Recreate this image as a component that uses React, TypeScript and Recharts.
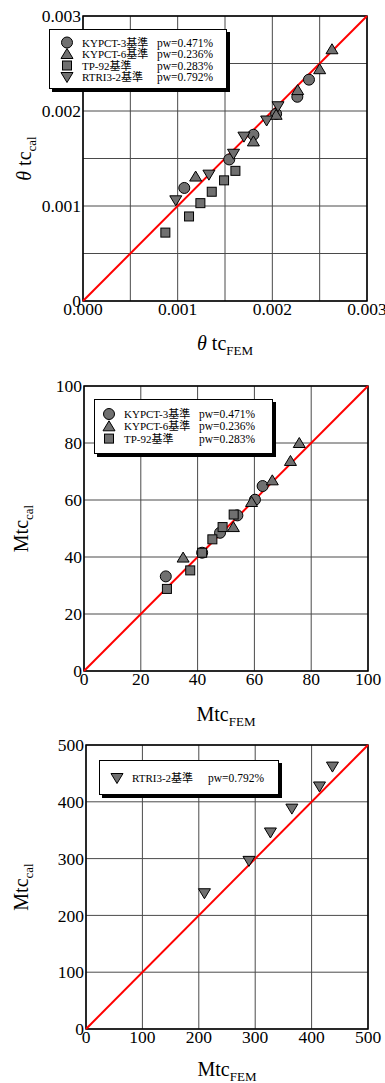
import React from "react";
import {
  ScatterChart,
  Scatter,
  XAxis,
  YAxis,
  CartesianGrid,
  ReferenceLine,
  ReferenceArea,
} from "recharts";

const SERIF = '"Liberation Serif", "Times New Roman", "Noto Sans CJK JP", serif';
const MARK_FILL = "#707070";
const GRID = "#4a4a4a";

// legend text
const seriesNames = ["KYPCT-3基準", "KYPCT-6基準", "TP-92基準", "RTRI3-2基準"];
const seriesPw = ["pw=0.471%", "pw=0.236%", "pw=0.283%", "pw=0.792%"];

// chart 1: θtc FEM vs cal
const thetaTicks = [0, 0.0005, 0.001, 0.0015, 0.002, 0.0025, 0.003];
const kypct3ThetaFem = [0.00107, 0.001545, 0.0018, 0.00204, 0.002264, 0.002387];
const kypct3ThetaCal = [0.00119, 0.00149, 0.00175, 0.00197, 0.00215, 0.00233];
const kypct6ThetaFem = [0.00119, 0.0018, 0.00204, 0.002268, 0.0025, 0.00263];
const kypct6ThetaCal = [0.00131, 0.00168, 0.00196, 0.00222, 0.00244, 0.00265];
const tp92ThetaFem = [0.00087, 0.00112, 0.00124, 0.00136, 0.00149, 0.00161];
const tp92ThetaCal = [0.00072, 0.00089, 0.00103, 0.00115, 0.00127, 0.00137];
const rtriThetaFem = [0.00098, 0.00133, 0.00159, 0.0017, 0.00194, 0.00206];
const rtriThetaCal = [0.00106, 0.00133, 0.00155, 0.00173, 0.0019, 0.00205];

// chart 2: Mtc FEM vs cal
const mtcTicks = [0, 20, 40, 60, 80, 100];
const kypct3MtcFem = [28.8, 41.6, 47.9, 54.0, 60.2, 62.9];
const kypct3MtcCal = [33.2, 41.5, 48.5, 54.6, 60.1, 64.9];
const kypct6MtcFem = [34.9, 52.6, 59.0, 66.3, 72.7, 75.8];
const kypct6MtcCal = [39.8, 50.5, 59.3, 66.9, 73.7, 80.0];
const tp92MtcFem = [29.2, 37.4, 41.6, 45.2, 48.8, 52.7];
const tp92MtcCal = [28.8, 35.3, 41.5, 46.2, 50.5, 54.9];

// chart 3: RTRI3-2 Mtc
const rtriTicks = [0, 100, 200, 300, 400, 500];
const rtriMtcFem = [210, 289, 327, 365, 414, 437];
const rtriMtcCal = [239, 296, 346, 388, 427, 462];

const zip = (xs: number[], ys: number[]) => xs.map((x, i) => ({ x, y: ys[i] }));

type Shape = "circle" | "triangle" | "square" | "down";

function marker(kind: Shape, cx: number, cy: number) {
  const common = { fill: MARK_FILL, stroke: "#000", strokeWidth: 1 };
  if (kind === "circle") return <circle cx={cx} cy={cy} r={5.5} {...common} />;
  if (kind === "square") return <rect x={cx - 4.5} y={cy - 4.5} width={9} height={9} {...common} />;
  if (kind === "triangle")
    return <polygon points={`${cx},${cy - 5.5} ${cx - 6},${cy + 4.5} ${cx + 6},${cy + 4.5}`} {...common} />;
  return <polygon points={`${cx - 6},${cy - 4.5} ${cx + 6},${cy - 4.5} ${cx},${cy + 5.5}`} {...common} />;
}

const shapeOf = (kind: Shape) => (p: any) => marker(kind, p.cx, p.cy);

function yTitle(main: React.ReactNode, sub: string, baseX: number) {
  return (props: any) => {
    const { y, height } = props.viewBox;
    const cy = y + height / 2;
    return (
      <text
        x={baseX}
        y={cy}
        transform={`rotate(-90, ${baseX}, ${cy})`}
        textAnchor="middle"
        fontFamily={SERIF}
        fontSize={20}
        fill="#000"
      >
        {main}
        <tspan fontSize={13} dy={5}>{sub}</tspan>
      </text>
    );
  };
}

function xTitle(main: React.ReactNode, sub: string, dy: number) {
  return (props: any) => {
    const { x, y, width } = props.viewBox;
    return (
      <text x={x + width / 2} y={y + dy} textAnchor="middle" fontFamily={SERIF} fontSize={20} fill="#000">
        {main}
        <tspan fontSize={13} dy={5}>{sub}</tspan>
      </text>
    );
  };
}

const thetaMain = (
  <>
    <tspan fontStyle="italic">θ</tspan>
    <tspan> tc</tspan>
  </>
);

interface LegendRow {
  idx: number;
  kind: Shape;
}

function LegendBox(props: {
  left: number;
  top: number;
  width: number;
  height: number;
  rows: LegendRow[];
  rowY: number;
  rowGap: number;
  markX: number;
  textX: number;
  pwX: number;
}) {
  const { left, top, width, height, rows, rowY, rowGap, markX, textX, pwX } = props;
  return (
    <div
      style={{
        position: "absolute",
        left,
        top,
        width,
        height,
        background: "#fff",
        border: "1px solid #000",
        boxShadow: "3px 3px 0 #000",
        boxSizing: "border-box",
      }}
    >
      <svg width={width} height={height} style={{ position: "absolute", left: -1, top: -1 }}>
        {rows.map((r, i) => {
          const cy = rowY + i * rowGap;
          return (
            <g key={r.idx}>
              {marker(r.kind, markX, cy)}
              <text x={textX} y={cy} dominantBaseline="central" fontFamily={SERIF} fontSize={11} fill="#000">
                {seriesNames[r.idx]}
              </text>
              <text x={pwX} y={cy} dominantBaseline="central" fontFamily={SERIF} fontSize={11.5} fill="#000">
                {seriesPw[r.idx]}
              </text>
            </g>
          );
        })}
      </svg>
    </div>
  );
}

const tickStyle = { fill: "#000", fontFamily: SERIF, fontSize: 17.5 };

function ThetaChart() {
  const fmtX = (v: number) => (Math.round(v * 2000) % 2 === 0 ? v.toFixed(3) : "");
  const fmtY = (v: number) => (v === 0 ? "0" : Math.round(v * 2000) % 2 === 0 ? v.toFixed(3) : "");
  return (
    <div style={{ position: "absolute", left: 0, top: 0, width: 385, height: 360 }}>
      <ScatterChart width={385} height={360} margin={{ top: 16, right: 18, left: 0, bottom: 0 }}>
        <CartesianGrid stroke={GRID} strokeWidth={1} />
        <XAxis
          type="number"
          dataKey="x"
          domain={[0, 0.003]}
          ticks={thetaTicks}
          tickFormatter={fmtX}
          height={59}
          tickLine={false}
          axisLine={false}
          tickSize={0}
          tickMargin={2}
          tick={tickStyle}
          interval={0}
          label={{ content: xTitle(thetaMain, "FEM", 49) }}
        />
        <YAxis
          type="number"
          dataKey="y"
          domain={[0, 0.003]}
          ticks={thetaTicks}
          tickFormatter={fmtY}
          width={83}
          tickLine={false}
          axisLine={false}
          tickSize={0}
          tickMargin={2}
          tick={tickStyle}
          interval={0}
          label={{ content: yTitle(thetaMain, "cal", 31) }}
        />
        <ReferenceArea x1={0} x2={0.003} y1={0} y2={0.003} fill="none" stroke="#000" strokeWidth={1.5} fillOpacity={0} />
        <ReferenceLine segment={[{ x: 0, y: 0 }, { x: 0.003, y: 0.003 }]} stroke="#f00" strokeWidth={2} />
        <Scatter data={zip(tp92ThetaFem, tp92ThetaCal)} shape={shapeOf("square")} isAnimationActive={false} />
        <Scatter data={zip(kypct3ThetaFem, kypct3ThetaCal)} shape={shapeOf("circle")} isAnimationActive={false} />
        <Scatter data={zip(kypct6ThetaFem, kypct6ThetaCal)} shape={shapeOf("triangle")} isAnimationActive={false} />
        <Scatter data={zip(rtriThetaFem, rtriThetaCal)} shape={shapeOf("down")} isAnimationActive={false} />
      </ScatterChart>
      <LegendBox
        left={49}
        top={29}
        width={178}
        height={60}
        rows={[
          { idx: 0, kind: "circle" },
          { idx: 1, kind: "triangle" },
          { idx: 2, kind: "square" },
          { idx: 3, kind: "down" },
        ]}
        rowY={13.5}
        rowGap={11.5}
        markX={18}
        textX={33}
        pwX={108}
      />
    </div>
  );
}

function MtcChart() {
  return (
    <div style={{ position: "absolute", left: 0, top: 360, width: 385, height: 370 }}>
      <ScatterChart width={385} height={370} margin={{ top: 26, right: 17, left: 0, bottom: 0 }}>
        <CartesianGrid stroke={GRID} strokeWidth={1} />
        <XAxis
          type="number"
          dataKey="x"
          domain={[0, 100]}
          ticks={mtcTicks}
          height={59}
          tickLine={false}
          axisLine={false}
          tickSize={0}
          tickMargin={2}
          tick={tickStyle}
          interval={0}
          label={{ content: xTitle("Mtc", "FEM", 50) }}
        />
        <YAxis
          type="number"
          dataKey="y"
          domain={[0, 100]}
          ticks={mtcTicks}
          width={84}
          tickLine={false}
          axisLine={false}
          tickSize={0}
          tickMargin={2}
          tick={tickStyle}
          interval={0}
          label={{ content: yTitle("Mtc", "cal", 28) }}
        />
        <ReferenceArea x1={0} x2={100} y1={0} y2={100} fill="none" stroke="#000" strokeWidth={1.5} fillOpacity={0} />
        <ReferenceLine segment={[{ x: 0, y: 0 }, { x: 100, y: 100 }]} stroke="#f00" strokeWidth={2} />
        <Scatter data={zip(kypct3MtcFem, kypct3MtcCal)} shape={shapeOf("circle")} isAnimationActive={false} />
        <Scatter data={zip(kypct6MtcFem, kypct6MtcCal)} shape={shapeOf("triangle")} isAnimationActive={false} />
        <Scatter data={zip(tp92MtcFem, tp92MtcCal)} shape={shapeOf("square")} isAnimationActive={false} />
      </ScatterChart>
      <LegendBox
        left={94}
        top={39}
        width={179}
        height={55}
        rows={[
          { idx: 0, kind: "circle" },
          { idx: 1, kind: "triangle" },
          { idx: 2, kind: "square" },
        ]}
        rowY={15}
        rowGap={12.3}
        markX={15}
        textX={30}
        pwX={105}
      />
    </div>
  );
}

function RtriChart() {
  return (
    <div style={{ position: "absolute", left: 0, top: 730, width: 385, height: 353 }}>
      <ScatterChart width={385} height={353} margin={{ top: 15, right: 17, left: 0, bottom: 0 }}>
        <CartesianGrid stroke={GRID} strokeWidth={1} />
        <XAxis
          type="number"
          dataKey="x"
          domain={[0, 500]}
          ticks={rtriTicks}
          height={54}
          tickLine={false}
          axisLine={false}
          tickSize={0}
          tickMargin={2}
          tick={tickStyle}
          interval={0}
          label={{ content: xTitle("Mtc", "FEM", 47) }}
        />
        <YAxis
          type="number"
          dataKey="y"
          domain={[0, 500]}
          ticks={rtriTicks}
          width={86}
          tickLine={false}
          axisLine={false}
          tickSize={0}
          tickMargin={2}
          tick={tickStyle}
          interval={0}
          label={{ content: yTitle("Mtc", "cal", 28) }}
        />
        <ReferenceArea x1={0} x2={500} y1={0} y2={500} fill="none" stroke="#000" strokeWidth={1.5} fillOpacity={0} />
        <ReferenceLine segment={[{ x: 0, y: 0 }, { x: 500, y: 500 }]} stroke="#f00" strokeWidth={2} />
        <Scatter data={zip(rtriMtcFem, rtriMtcCal)} shape={shapeOf("down")} isAnimationActive={false} />
      </ScatterChart>
      <LegendBox
        left={99}
        top={30}
        width={180}
        height={35}
        rows={[{ idx: 3, kind: "down" }]}
        rowY={18}
        rowGap={0}
        markX={18}
        textX={33}
        pwX={109}
      />
    </div>
  );
}

export default function App() {
  return (
    <div style={{ position: "absolute", left: 0, top: 0, width: 385, height: 1083, background: "#fff" }}>
      <ThetaChart />
      <MtcChart />
      <RtriChart />
    </div>
  );
}
